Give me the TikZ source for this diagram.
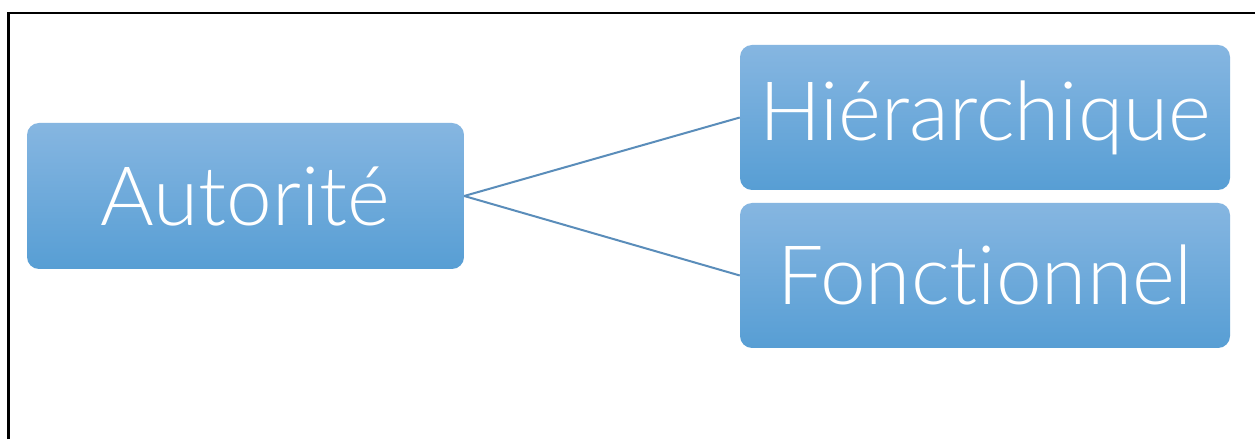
\documentclass[tikz,border=0pt]{standalone}
\usepackage{fontspec}
\setmainfont{Lato Light}[Ligatures=NoCommon]
\definecolor{boxtop}{HTML}{86B6E1}
\definecolor{boxbot}{HTML}{579ED4}
\definecolor{linkc}{HTML}{5A8DBA}
\tikzset{
  box/.style={rounded corners=12pt, shading=axis, top color=boxtop, bottom color=boxbot,
    draw=none, inner sep=0pt, text=white, font=\fontsize{82}{94}\selectfont},
  link/.style={draw=linkc, line width=2pt}
}
\begin{document}
\begin{tikzpicture}[x=1pt,y=1pt]
\useasboundingbox (0,0) rectangle (1255,439);
\fill[white] (0,0) rectangle (1255,439);
\draw[line width=2.2pt] (8.5,0) -- (8.5,426) -- (1255,426);
\node[box, minimum width=437pt, minimum height=146pt] (aut) at (245.5,243) {Autorité};
\node[box, minimum width=490pt, minimum height=145pt] (hie) at (985,321.5) {Hiérarchique};
\node[box, minimum width=490pt, minimum height=145pt] (fon) at (985,163.5) {Fonctionnel};
\draw[link] (aut.east) -- (hie.west);
\draw[link] (aut.east) -- (fon.west);
\end{tikzpicture}
\end{document}
